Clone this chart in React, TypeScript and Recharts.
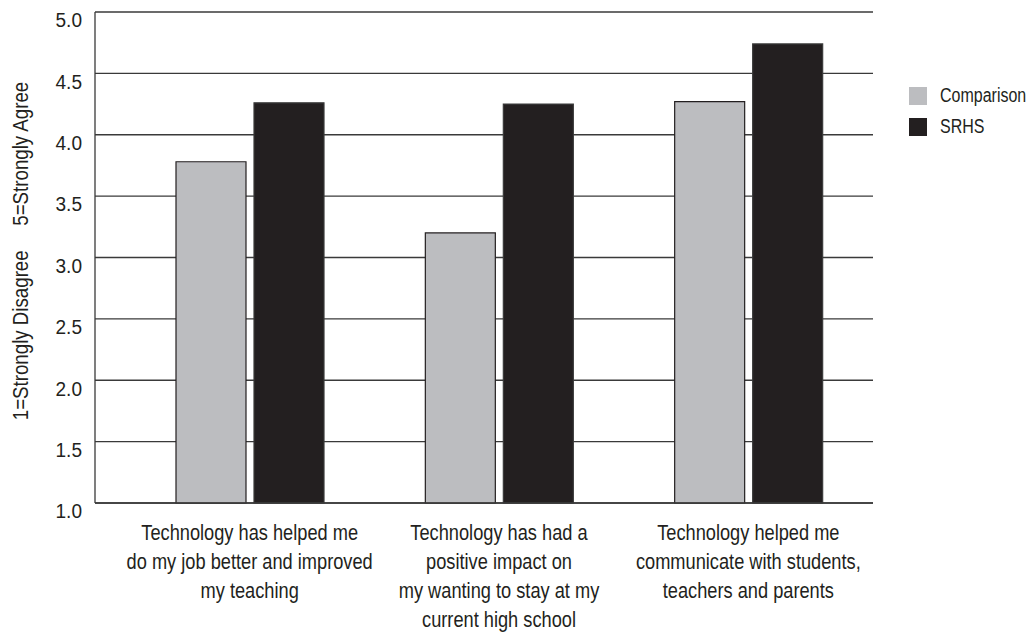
import {
  BarChart,
  Bar,
  XAxis,
  YAxis,
  CartesianGrid,
  Legend,
} from "recharts";

const CATEGORIES = [
  "Technology has helped me\ndo my job better and improved\nmy teaching",
  "Technology has had a\npositive impact on\nmy wanting to stay at my\ncurrent high school",
  "Technology helped me\ncommunicate with students,\nteachers and parents",
];
const COMPARISON = [3.78, 3.2, 4.27];
const SRHS = [4.26, 4.25, 4.74];
const Y_TICKS = [1, 1.5, 2, 2.5, 3, 3.5, 4, 4.5, 5];

// no condensed face installed, so squeeze Liberation Sans horizontally
const FONT = '"Liberation Sans", Arial, sans-serif';
const INK = "#231f20";
const GRAY = "#bcbdc0";
const LINE = "#3a3a3a";

const data = CATEGORIES.map((name, i) => ({
  name,
  comparison: COMPARISON[i],
  srhs: SRHS[i],
}));

function CategoryTick({ x, y, payload }: any) {
  const lines = String(payload.value).split("\n");
  return (
    <text
      transform={`translate(${x}, ${y}) scale(0.81, 1)`}
      textAnchor="middle"
      fill={INK}
      fontFamily={FONT}
      fontSize={22.5}
    >
      {lines.map((line, i) => (
        <tspan key={i} x={0} dy={i === 0 ? 37 : 29}>
          {line}
        </tspan>
      ))}
    </text>
  );
}

function ValueTick({ x, y, payload }: any) {
  return (
    <text
      transform={`translate(${x}, ${y + 8}) scale(0.93, 1)`}
      textAnchor="end"
      dy="0.355em"
      fill={INK}
      fontFamily={FONT}
      fontSize={20.5}
    >
      {Number(payload.value).toFixed(1)}
    </text>
  );
}

function YTitle({ viewBox }: any) {
  const x = (viewBox?.x ?? 0) + 20;
  const y = (viewBox?.y ?? 12) + 239;
  return (
    <text
      transform={`translate(${x}, ${y}) rotate(-90) scale(0.85, 1)`}
      textAnchor="middle"
      dy="0.355em"
      fill={INK}
      fontFamily={FONT}
      fontSize={22}
    >
      <tspan>1=Strongly Disagree</tspan>
      <tspan dx={29}>5=Strongly Agree</tspan>
    </text>
  );
}

function LegendBox({ payload }: any) {
  return (
    <div style={{ fontFamily: FONT, fontSize: 20, color: INK }}>
      {(payload ?? []).map((p: any) => (
        <div key={p.value} style={{ display: "flex", alignItems: "center", height: 31 }}>
          <span
            style={{
              display: "inline-block",
              flexShrink: 0,
              width: 18,
              height: 18,
              background: p.color,
              marginRight: 13,
            }}
          />
          <span
            style={{
              display: "inline-block",
              whiteSpace: "nowrap",
              transform: "scaleX(0.8)",
              transformOrigin: "left center",
            }}
          >
            {p.value}
          </span>
        </div>
      ))}
    </div>
  );
}

export default function App() {
  return (
    <div style={{ position: "absolute", left: 0, top: 0, background: "#fff" }}>
      <BarChart
        width={1029}
        height={634}
        data={data}
        margin={{ top: 12, right: 156, bottom: 0, left: 0 }}
        barSize={70}
        barGap={8}
      >
        <CartesianGrid vertical={false} stroke={LINE} strokeWidth={1.3} />
        <XAxis
          dataKey="name"
          height={131}
          padding={{ left: 30, right: 0 }}
          axisLine={{ stroke: LINE, strokeWidth: 1.3 }}
          tickLine={false}
          tickSize={0}
          tickMargin={0}
          interval={0}
          tick={<CategoryTick />}
        />
        <YAxis
          width={95}
          domain={[1, 5]}
          ticks={Y_TICKS}
          interval={0}
          axisLine={{ stroke: LINE, strokeWidth: 1.3 }}
          tickLine={false}
          tickSize={6}
          tickMargin={7}
          tick={<ValueTick />}
          label={<YTitle />}
        />
        <YAxis
          yAxisId="right"
          orientation="right"
          width={0}
          domain={[1, 5]}
          tick={false}
          tickLine={false}
          axisLine={{ stroke: LINE, strokeWidth: 1.3 }}
        />
        <Legend
          layout="vertical"
          align="center"
          verticalAlign="middle"
          wrapperStyle={{ left: 909, top: 80, width: 120 }}
          content={<LegendBox />}
        />
        <Bar
          dataKey="comparison"
          name="Comparison"
          fill={GRAY}
          stroke={INK}
          strokeWidth={1.2}
          isAnimationActive={false}
        />
        <Bar
          dataKey="srhs"
          name="SRHS"
          fill={INK}
          stroke={LINE}
          strokeWidth={1.2}
          isAnimationActive={false}
        />
      </BarChart>
    </div>
  );
}
